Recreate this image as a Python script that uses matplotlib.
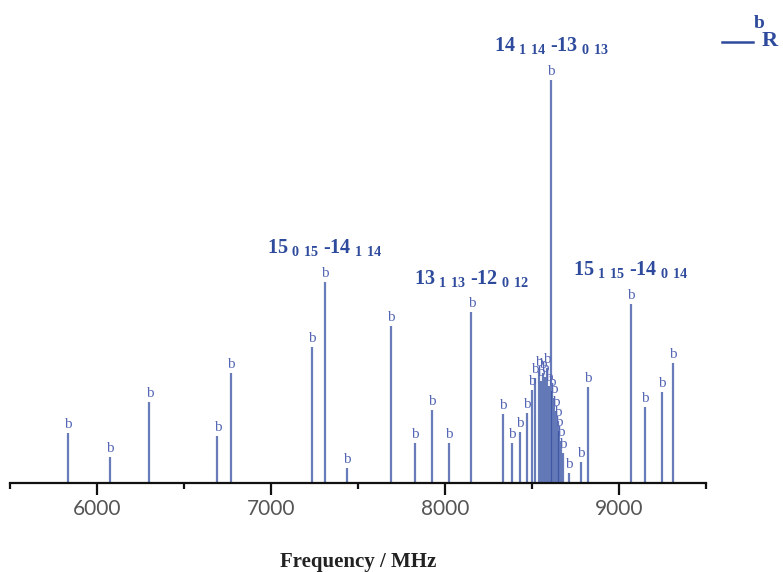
import matplotlib
matplotlib.use("Agg")
import matplotlib.pyplot as plt
from matplotlib.lines import Line2D

# Line positions (MHz) and relative intensities of the b-type R-branch lines
freqs = [5831, 6072, 6301, 6692, 6772, 7237, 7309, 7434, 7689, 7829,
         7927, 8022, 8152, 8334, 8385, 8431, 8469, 8500, 8519, 8538,
         8553, 8565, 8576, 8588, 8596, 8609, 8616, 8628, 8637, 8648,
         8656, 8668, 8679, 8710, 8782, 8822, 9067, 9147, 9248, 9308]
intens = [12.4, 6.5, 20.1, 11.7, 27.3, 33.7, 49.9, 3.7, 39.0, 9.9,
          18.1, 9.9, 42.4, 17.1, 9.9, 12.7, 17.4, 23.1, 26.1, 27.8,
          25.3, 27.3, 26.3, 28.5, 24.1, 100.0, 22.8, 21.1, 17.9, 15.4,
          12.9, 10.4, 7.4, 2.5, 5.2, 23.8, 44.4, 18.9, 22.6, 29.8]
line_tag = "b"

# Assigned transitions  J'(Ka' Kc') - J''(Ka'' Kc'')
trans_freqs = [7309, 8152, 8609, 9067]
trans_labels = [r"15$_{\ 0\ 15}$ -14$_{\ 1\ 14}$",
                r"13$_{\ 1\ 13}$ -12$_{\ 0\ 12}$",
                r"14$_{\ 1\ 14}$ -13$_{\ 0\ 13}$",
                r"15$_{\ 1\ 15}$ -14$_{\ 0\ 14}$"]

major_ticks = [6000, 7000, 8000, 9000]
minor_ticks = [5500, 6500, 7500, 8500, 9500]
x_range = (5500, 9500)

plt.rcParams["mathtext.fontset"] = "custom"
plt.rcParams["mathtext.rm"] = "Liberation Serif:bold"
plt.rcParams["mathtext.default"] = "rm"

W, H = 783, 572
fig = plt.figure(figsize=(W / 100, H / 100), dpi=100)
ax = fig.add_axes([10 / W, (H - 483) / H, 696 / W, 483 / H])

line_col = "#2E4A9E"
text_col = "#2E4A9C"
tag_col = "#5567B4"

ax.vlines(freqs, 0, intens, color=line_col, alpha=0.72, lw=1.6)

for f, h in zip(freqs, intens):
    ax.annotate(line_tag, (f, h), xytext=(0, 1.5), textcoords="offset points",
                ha="center", va="bottom", fontsize=11,
                family="Liberation Serif", color=tag_col)

for f, lab in zip(trans_freqs, trans_labels):
    h = intens[freqs.index(f)]
    ax.annotate(lab, (f, h), xytext=(0, 17), textcoords="offset points",
                ha="center", va="bottom", fontsize=14.5, fontweight="bold",
                family="Liberation Serif", color=text_col)

ax.set_xlim(*x_range)
ax.set_ylim(0, 483 / 403 * 100)

for s in ("left", "right", "top"):
    ax.spines[s].set_visible(False)
ax.spines["bottom"].set_linewidth(1.6)
ax.spines["bottom"].set_color("#111111")
ax.set_yticks([])
ax.set_xticks(major_ticks)
ax.set_xticks(minor_ticks, minor=True)
ax.tick_params(axis="x", which="major", direction="out", length=8.5, width=1.6,
               color="#111111", labelsize=15, labelcolor="#555555", pad=3)
ax.tick_params(axis="x", which="minor", direction="out", length=4.3, width=1.6,
               color="#111111")
for t in ax.get_xticklabels():
    t.set_family("Lato")

fig.text(358 / W, 1 - 567 / H, "Frequency / MHz", ha="center", va="baseline",
         fontsize=15, fontweight="bold", family="Liberation Serif", color="#222222")

# Legend key
fig.add_artist(Line2D([722 / W, 753 / W], [1 - 41.7 / H] * 2,
                      transform=fig.transFigure, color=text_col, lw=1.8))
fig.text(754 / W, 1 - 28 / H, "b", ha="left", va="baseline", fontsize=14,
         fontweight="bold", family="Liberation Serif", color=text_col)
fig.text(762 / W, 1 - 46 / H, "R", ha="left", va="baseline", fontsize=16,
         fontweight="bold", family="Liberation Serif", color=text_col)

fig.savefig("out.png", dpi=100, facecolor="white")
